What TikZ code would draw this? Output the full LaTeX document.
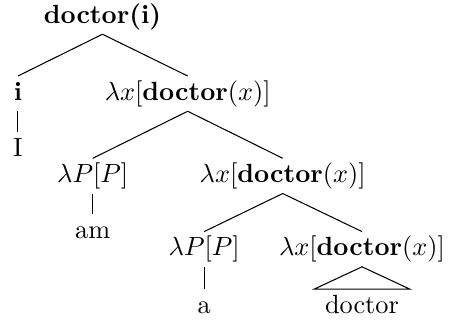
\documentclass[tikz,border=0pt]{standalone}
\usepackage{amsmath}
\tikzset{
  lbl/.style={anchor=base, text height=7.5pt, text depth=2.5pt, inner ysep=1.5pt, inner xsep=4pt}
}
\begin{document}
\begin{tikzpicture}
  \useasboundingbox (0,0) rectangle (6.03,4.28);

  \node[lbl] (root) at (1.37,3.97) {\textbf{doctor(i)}};
  \node[lbl] (subj) at (0.24,2.94) {\textbf{i}};
  \node[lbl] (vpa) at (2.51,2.94) {\(\lambda x[\textbf{doctor}(x)]\)};
  \node[lbl] (wI) at (0.24,2.19) {I};

  \node[lbl] (cop) at (1.24,1.84) {\(\lambda P[P]\)};
  \node[lbl] (npa) at (3.78,1.84) {\(\lambda x[\textbf{doctor}(x)]\)};
  \node[lbl] (wam) at (1.24,1.09) {am};

  \node[lbl] (det) at (2.73,0.86) {\(\lambda P[P]\)};
  \node[lbl] (noun) at (4.84,0.86) {\(\lambda x[\textbf{doctor}(x)]\)};
  \node[lbl] (wa) at (2.73,0.09) {a};
  \node[lbl] (wdoc) at (4.84,0.09) {doctor};

  \draw (root.south) -- (subj.north);
  \draw (root.south) -- (vpa.north);
  \draw (subj.south) -- (wI.north);

  \draw (vpa.south) -- (cop.north);
  \draw (vpa.south) -- (npa.north);
  \draw (cop.south) -- (wam.north);

  \draw (npa.south) -- (det.north);
  \draw (npa.south) -- (noun.north);
  \draw (det.south) -- (wa.north);
  \draw (noun.south) -- (wdoc.north west) -- (wdoc.north east) -- cycle;
\end{tikzpicture}
\end{document}
